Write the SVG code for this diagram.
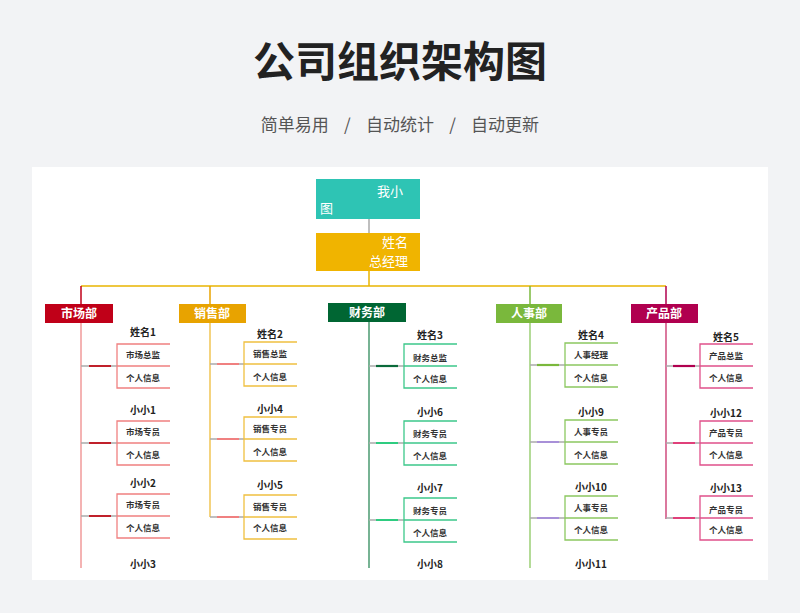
<svg xmlns="http://www.w3.org/2000/svg" width="800" height="613" viewBox="0 0 800 613">
<style>
text{font-family:"Noto Sans CJK SC","Noto Sans",sans-serif}
.t{font-size:42px;font-weight:bold;fill:#222;text-anchor:middle}
.st{font-size:17px;fill:#555;text-anchor:middle}
.d{font-size:12px;font-weight:bold;fill:#fff;text-anchor:middle}
.w{font-size:13px;fill:#fff}
.n{font-size:10px;font-weight:bold;fill:#222;text-anchor:middle}
.i{font-size:8.5px;font-weight:bold;fill:#333;text-anchor:middle}
.b{fill:none;stroke-width:1.3}
.g{stroke:#aaa;stroke-width:1.3}
.s{stroke-width:2.2}
</style>
<defs>
<path id="br" d="M53 0H0V44H53M0 22H53"/>
</defs>
<rect width="800" height="613" fill="#f2f3f5"/>
<rect x="32" y="167" width="736" height="413" fill="#fff"/>
<text class="t" x="400" y="77">公司组织架构图</text>
<text class="st" x="400" y="131" xml:space="preserve">简单易用    /    自动统计    /    自动更新</text>

<g id="connectors" fill="none">
<line x1="369" y1="219" x2="369" y2="233" stroke="#aaa" stroke-width="1.5"/>
<line x1="369" y1="271" x2="369" y2="286" stroke="#e8b400" stroke-width="1.5"/>
<line x1="81" y1="286" x2="666" y2="286" stroke="#e8b400" stroke-width="1.5"/>
<line x1="81" y1="286" x2="81" y2="304" stroke="#c00018" stroke-width="1.5"/>
<line x1="210" y1="286" x2="210" y2="304" stroke="#e8a300" stroke-width="1.5"/>
<line x1="530" y1="286" x2="530" y2="304" stroke="#7ab83c" stroke-width="1.5"/>
<line x1="666" y1="286" x2="666" y2="304" stroke="#b0004f" stroke-width="1.5"/>
<line x1="81" y1="323" x2="81" y2="568" stroke="#ee8a8a" stroke-width="1.3"/>
<line x1="210" y1="323" x2="210" y2="517" stroke="#eebc3a" stroke-width="1.3"/>
<line x1="369" y1="322" x2="369" y2="568" stroke="#2e8a5a" stroke-width="1.3"/>
<line x1="530" y1="323" x2="530" y2="568" stroke="#8cc860" stroke-width="1.3"/>
<line x1="666" y1="323" x2="666" y2="519" stroke="#c8306a" stroke-width="1.3"/>
<g class="g"><path d="M81 366H117M81 443H117M81 516H117M210 364H244M210 439H244M210 517H244M369 366H404M369 443H404M369 520H404M530 365H565M530 442H565M530 518H565M666 366H700M666 443H700M666 518H700"/></g>
<path class="s" stroke="#c0202a" d="M89 366H111M89 443H111M89 516H111"/>
<path class="s" stroke="#f08080" d="M217 364H239M217 439H239M217 517H239"/>
<path class="s" stroke="#0a6a3a" d="M376 366H398"/>
<path class="s" stroke="#2ecc80" d="M376 443H398M376 520H398"/>
<path class="s" stroke="#7ab83c" d="M537 365H559"/>
<path class="s" stroke="#a890d8" d="M537 442H559M537 518H559"/>
<path class="s" stroke="#b0004f" d="M673 366H695"/>
<path class="s" stroke="#e0407a" d="M673 443H695M673 518H695"/>
</g>

<g id="ceo-top"><rect x="316" y="179" width="104" height="40" fill="#2ec4b4"/><text class="w" x="377" y="196">我小</text><text class="w" x="320" y="213">图</text></g>
<g id="ceo"><rect x="316" y="233" width="104" height="38" fill="#f0b400"/><text class="w" x="408" y="247" text-anchor="end" font-size="12.5">姓名</text><text class="w" x="408" y="266" text-anchor="end" font-size="12.5">总经理</text></g>

<g id="d1"><rect x="45" y="304" width="68" height="19" fill="#c00018"/><text class="d" x="79" y="318">市场部</text></g>
<g id="d2"><rect x="179" y="304" width="67" height="19" fill="#e8a300"/><text class="d" x="212" y="318">销售部</text></g>
<g id="d3"><rect x="328" y="303" width="78" height="19" fill="#006633"/><text class="d" x="367" y="317">财务部</text></g>
<g id="d4"><rect x="496" y="304" width="66" height="19" fill="#7ab83c"/><text class="d" x="529" y="318">人事部</text></g>
<g id="d5"><rect x="631" y="304" width="67" height="19" fill="#b0004f"/><text class="d" x="664" y="318">产品部</text></g>

<g id="m1" transform="translate(117,344)"><use href="#br" class="b" stroke="#f08080"/><text class="n" x="26" y="-8">姓名1</text><text class="i" x="26" y="14">市场总监</text><text class="i" x="26" y="37">个人信息</text></g>
<g id="m2" transform="translate(117,421)"><use href="#br" class="b" stroke="#f08080"/><text class="n" x="26" y="-7">小小1</text><text class="i" x="26" y="14">市场专员</text><text class="i" x="26" y="37">个人信息</text></g>
<g id="m3" transform="translate(117,494)"><use href="#br" class="b" stroke="#f08080"/><text class="n" x="26" y="-7">小小2</text><text class="i" x="26" y="14">市场专员</text><text class="i" x="26" y="37">个人信息</text></g>
<g id="m4"><text class="n" x="143" y="568">小小3</text></g>
<g id="s1" transform="translate(244,342)"><use href="#br" class="b" stroke="#f0c040"/><text class="n" x="26" y="-4">姓名2</text><text class="i" x="26" y="15">销售总监</text><text class="i" x="26" y="38">个人信息</text></g>
<g id="s2" transform="translate(244,417)"><use href="#br" class="b" stroke="#f0c040"/><text class="n" x="26" y="-4">小小4</text><text class="i" x="26" y="15">销售专员</text><text class="i" x="26" y="38">个人信息</text></g>
<g id="s3" transform="translate(244,495)"><use href="#br" class="b" stroke="#f0c040"/><text class="n" x="26" y="-6">小小5</text><text class="i" x="26" y="15">销售专员</text><text class="i" x="26" y="36">个人信息</text></g>
<g id="f1" transform="translate(404,344)"><use href="#br" class="b" stroke="#3cc88a"/><text class="n" x="26" y="-5">姓名3</text><text class="i" x="26" y="17">财务总监</text><text class="i" x="26" y="38">个人信息</text></g>
<g id="f2" transform="translate(404,421)"><use href="#br" class="b" stroke="#3cc88a"/><text class="n" x="26" y="-5">小小6</text><text class="i" x="26" y="16">财务专员</text><text class="i" x="26" y="38">个人信息</text></g>
<g id="f3" transform="translate(404,498)"><use href="#br" class="b" stroke="#3cc88a"/><text class="n" x="26" y="-6">小小7</text><text class="i" x="26" y="16">财务专员</text><text class="i" x="26" y="38">个人信息</text></g>
<g id="f4"><text class="n" x="430" y="568">小小8</text></g>
<g id="r1" transform="translate(565,343)"><use href="#br" class="b" stroke="#8cc860"/><text class="n" x="26" y="-4">姓名4</text><text class="i" x="26" y="15">人事经理</text><text class="i" x="26" y="38">个人信息</text></g>
<g id="r2" transform="translate(565,420)"><use href="#br" class="b" stroke="#8cc860"/><text class="n" x="26" y="-4">小小9</text><text class="i" x="26" y="15">人事专员</text><text class="i" x="26" y="38">个人信息</text></g>
<g id="r3" transform="translate(565,496)"><use href="#br" class="b" stroke="#8cc860"/><text class="n" x="26" y="-5">小小10</text><text class="i" x="26" y="15">人事专员</text><text class="i" x="26" y="37">个人信息</text></g>
<g id="r4"><text class="n" x="591" y="568">小小11</text></g>
<g id="p1" transform="translate(700,344)"><use href="#br" class="b" stroke="#e0508a"/><text class="n" x="26" y="-3">姓名5</text><text class="i" x="26" y="15">产品总监</text><text class="i" x="26" y="37">个人信息</text></g>
<g id="p2" transform="translate(700,421)"><use href="#br" class="b" stroke="#e0508a"/><text class="n" x="26" y="-4">小小12</text><text class="i" x="26" y="15">产品专员</text><text class="i" x="26" y="37">个人信息</text></g>
<g id="p3" transform="translate(700,496)"><use href="#br" class="b" stroke="#e0508a"/><text class="n" x="26" y="-4">小小13</text><text class="i" x="26" y="17">产品专员</text><text class="i" x="26" y="37">个人信息</text></g>
</svg>
